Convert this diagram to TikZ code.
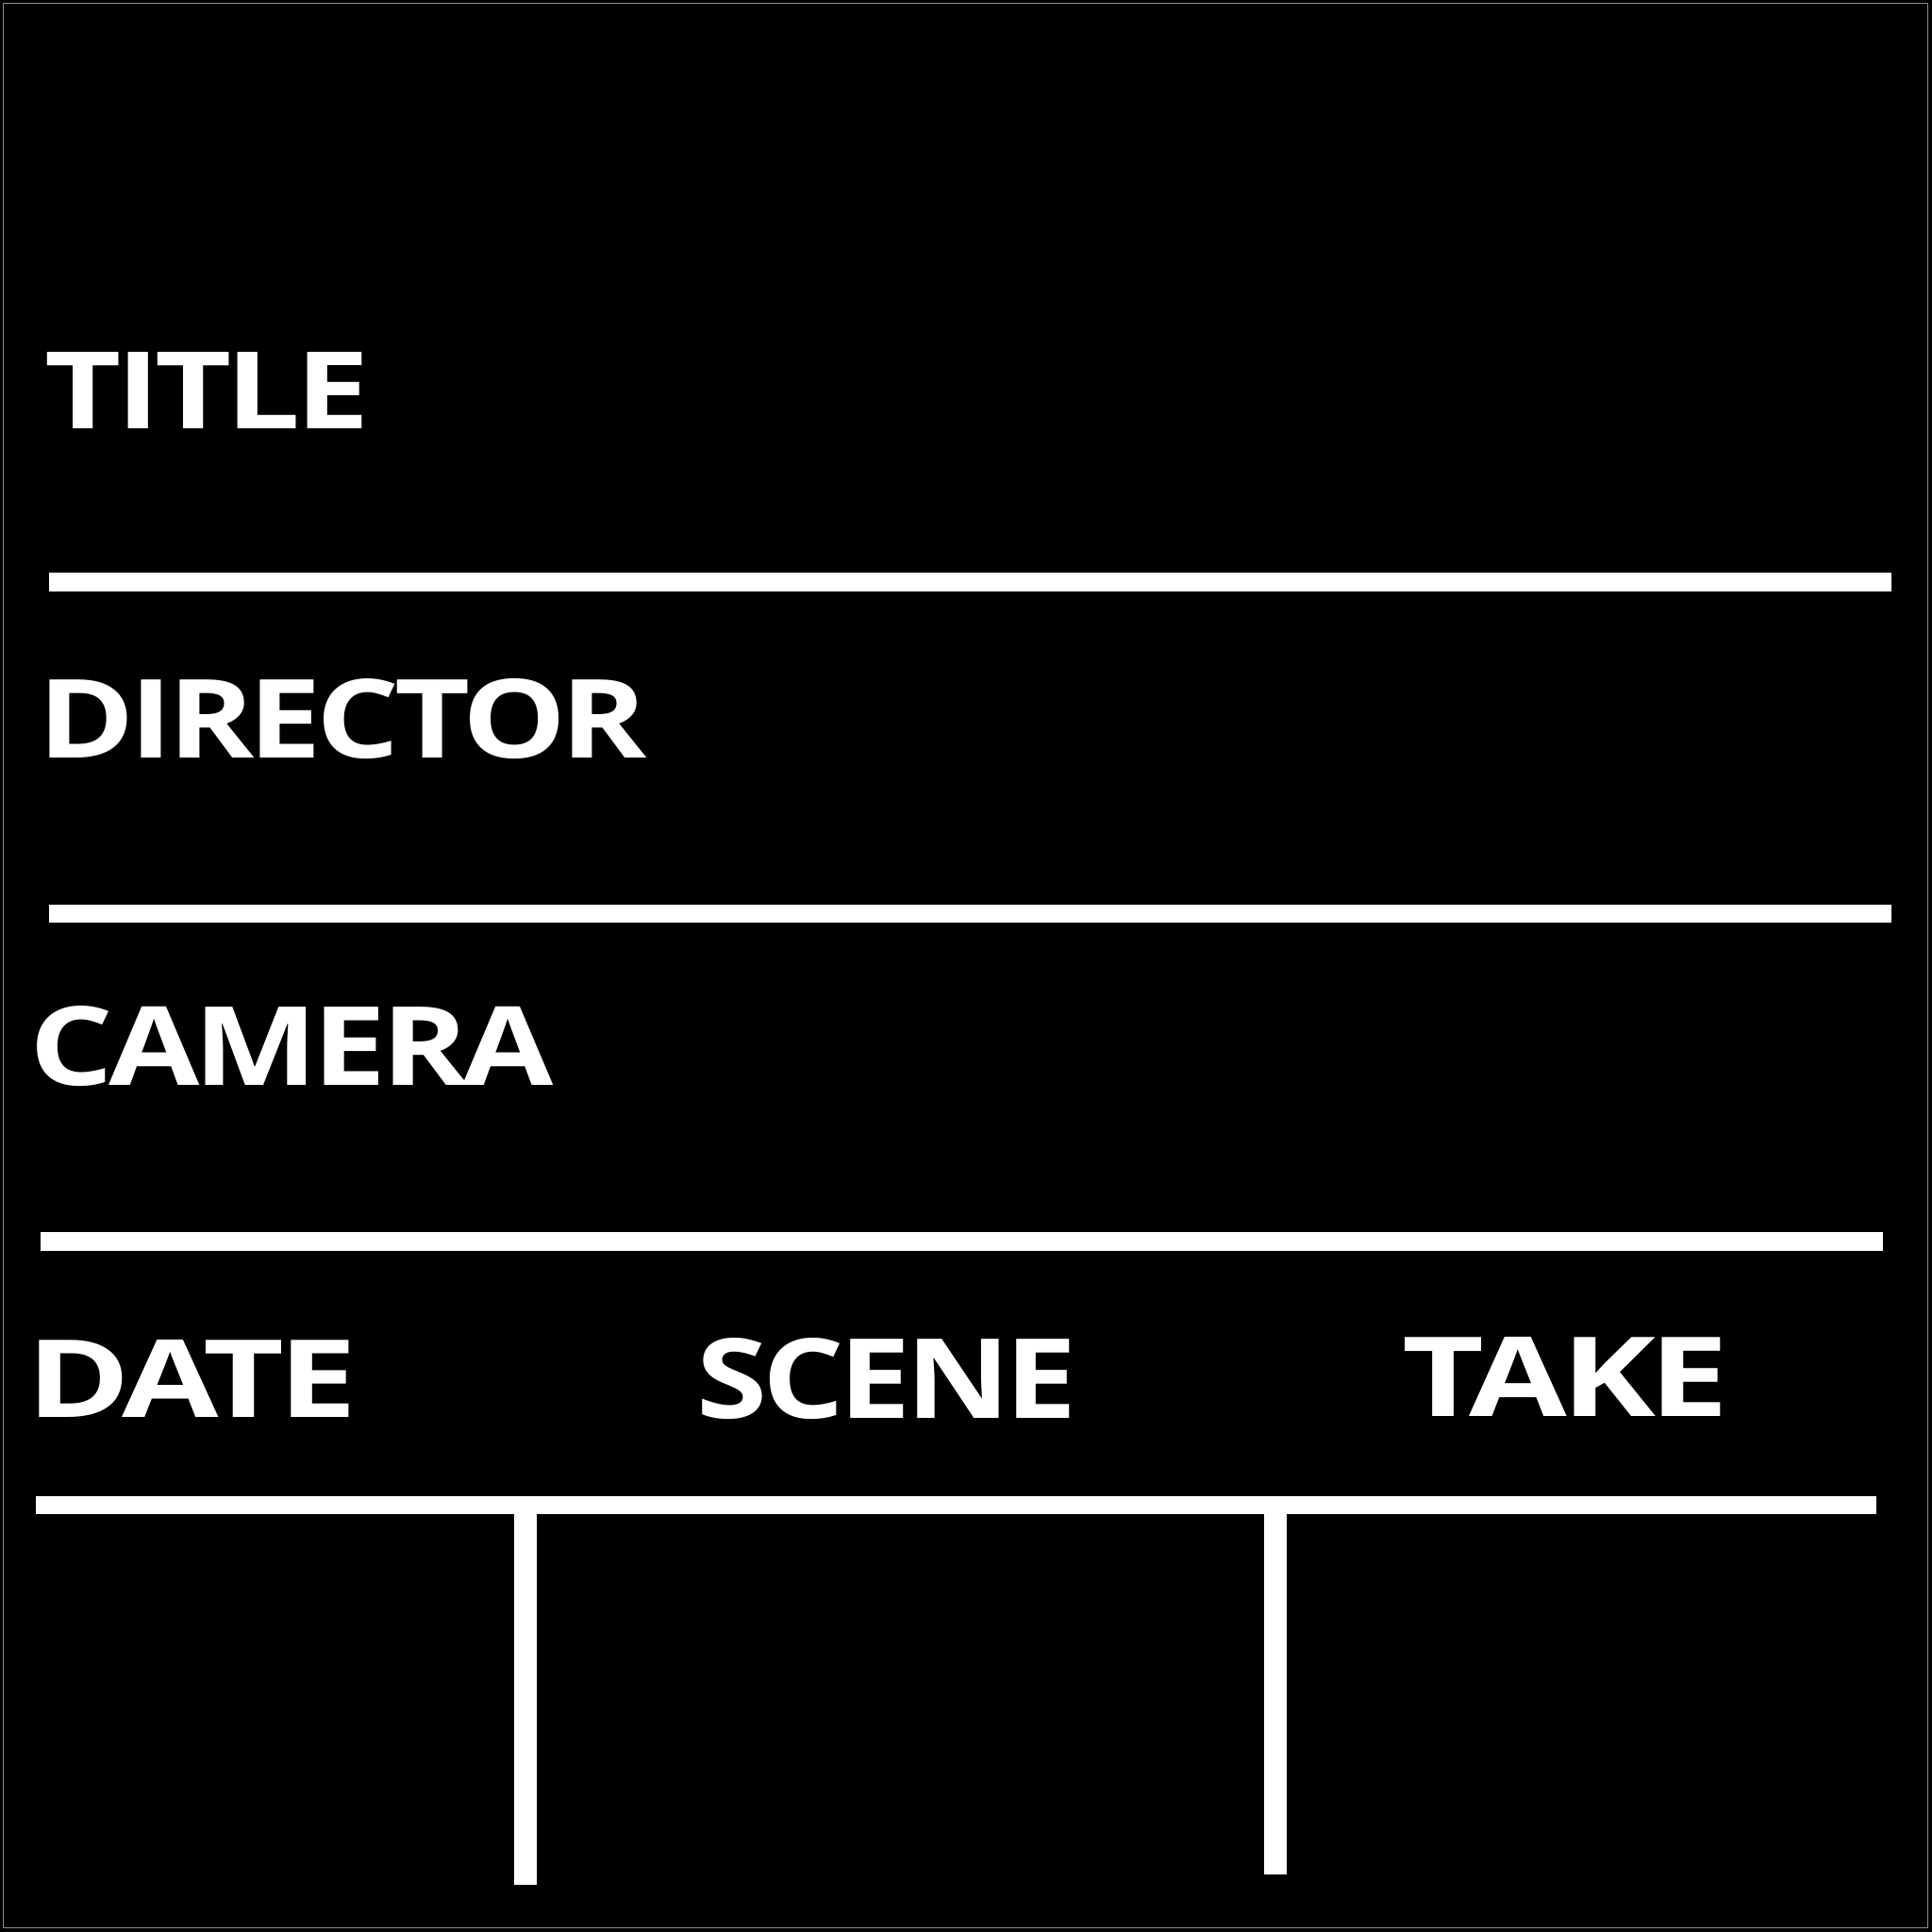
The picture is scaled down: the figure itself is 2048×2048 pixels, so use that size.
\documentclass[tikz,border=0pt]{standalone}
\usepackage{fontspec}
\setmainfont{Open Sans}
\newfontfamily\slatefont[LetterSpace=-4]{Open Sans}
\usepackage{graphicx}
\tikzset{
  bar/.style={fill=white, draw=none},
  slate text/.style={text=white, inner sep=0pt, anchor=south west, font=\slatefont\bfseries}
}
\newcommand{\slatelbl}[3]{\resizebox{#1}{#2}{#3}}

\begin{document}
\begin{tikzpicture}[x=0.01cm, y=-0.01cm]
				\useasboundingbox (0,0) rectangle (2048,2048);
				\fill[black] (0,0) rectangle (2048,2048);
				\draw[gray!90, line width=0.5pt] (3.5,3.5) rectangle (2043.5,2043.5);
				
				\node[slate text] (title) at (47,455) {\slatelbl{3.44cm}{0.81cm}{TITLE}};
				\fill[bar] (52,607) rectangle (2005,627);
				
				\node[slate text] (director) at (40,805) {\slatelbl{6.45cm}{0.84cm}{DIRECTOR}};
				\fill[bar] (52,959) rectangle (2005,978);
				
				\node[slate text] (camera) at (31,1152) {\slatelbl{5.55cm}{0.84cm}{CAMERA}};
				\fill[bar] (43,1306) rectangle (1996,1326);
				
				\node[slate text] (date) at (28,1503) {\slatelbl{3.50cm}{0.82cm}{DATE}};
				\node[slate text] (scene) at (738,1505) {\slatelbl{4.03cm}{0.85cm}{SCENE}};
				\node[slate text] (take) at (1486,1502) {\slatelbl{3.46cm}{0.84cm}{TAKE}};
				\fill[bar] (38,1586) rectangle (1989,1605);
				
				\fill[bar] (545,1605) rectangle (569,1998);
				\fill[bar] (1340,1605) rectangle (1364,1987);
			\end{tikzpicture}
\end{document}
